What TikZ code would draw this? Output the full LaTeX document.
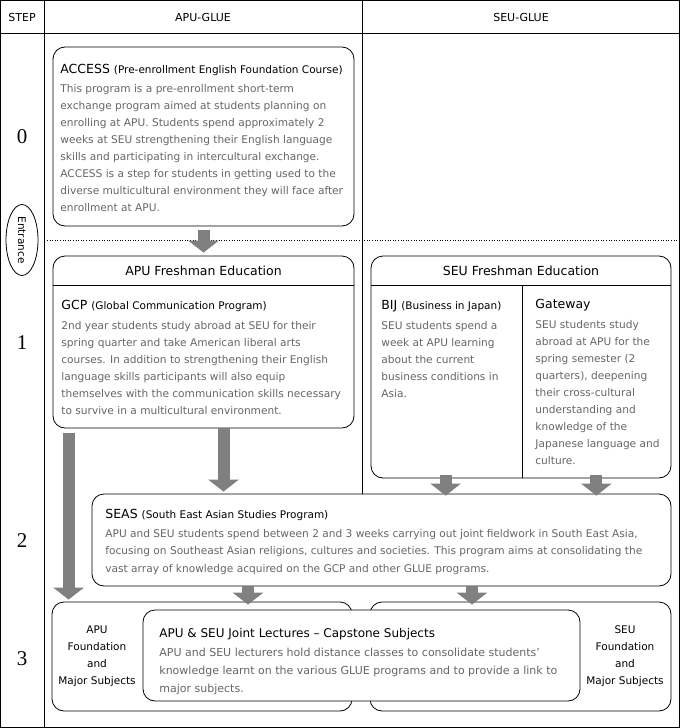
\documentclass[tikz,border=0pt]{standalone}
\usepackage{fontspec}
\setmainfont{DejaVu Sans}
\newfontfamily\stepfont{Liberation Serif}
\usepackage{xcolor}
\usetikzlibrary{shapes.geometric, arrows.meta, positioning}
\definecolor{bodygray}{HTML}{666666}
\definecolor{arrowgray}{HTML}{808080}

\begin{document}
\begin{tikzpicture}[x=1pt, y=-1pt, line width=0.8pt,
  panel/.style={rectangle, draw, rounded corners=12pt, fill=white, inner sep=0pt},
  heading/.style={inner sep=0pt, font=\fontsize{12.5}{15}\selectfont},
  title/.style={anchor=north west, inner sep=0pt, font=\fontsize{12.5}{15}\selectfont},
  body/.style={anchor=north west, inner sep=0pt, align=left, text=bodygray, font=\fontsize{10.6}{17}\selectfont},
  side/.style={inner sep=0pt, align=center, font=\fontsize{10.5}{17}\selectfont},
  stepnum/.style={font=\stepfont\fontsize{21}{21}\selectfont},
  colhead/.style={font=\fontsize{11}{12}\selectfont},
  bigarrow/.style={draw=arrowgray, line width=12pt, -{Triangle[length=12pt, width=30pt]}}]
  \useasboundingbox (0,0) rectangle (680,728);
  \newcommand\paren[1]{{\fontsize{10.5}{12}\selectfont #1}}

  % table frame
  \draw (0.5,0.5) rectangle (679.5,727.5);
  \draw (0.5,33) -- (679.5,33);
  \draw (44,0.5) -- (44,727.5);
  \node (stephead) [colhead] at (22,17) {STEP};
  \node (apuhead) [colhead] at (203,17) {APU-GLUE};
  \node (seuhead) [colhead] at (521,17) {SEU-GLUE};
  \draw[dotted, line width=0.6pt] (47,240) -- (679.5,240);

  % step numbers
  \node (s0) [stepnum] at (22,137) {0};
  \node (s1) [stepnum] at (22,343) {1};
  \node (s2) [stepnum] at (22,541) {2};
  \node (s3) [stepnum] at (22,659) {3};
  \node (entrance) [ellipse, draw, rotate=-90, minimum width=71pt, minimum height=32pt, inner sep=0pt, font=\fontsize{10.5}{12}\selectfont] at (22,240) {Entrance};

  % step 0
  \node (access) [panel, minimum width=301pt, minimum height=179pt] at (203.5,136.5) {};
  \node (accesstitle) [title] at (60,64) {ACCESS \paren{(Pre-enrollment English Foundation Course)}};
  \node (accessbody) [body] at (60,84) {This program is a pre-enrollment short-term\\
    exchange program aimed at students planning on\\
    enrolling at APU. Students spend approximately 2\\
    weeks at SEU strengthening their English language\\
    skills and participating in intercultural exchange.\\
    ACCESS is a step for students in getting used to the\\
    diverse multicultural environment they will face after\\
    enrollment at APU.};

  % step 1
  \node (apufresh) [panel, minimum width=301pt, minimum height=172pt] at (203.5,342) {};
  \node (apufreshhead) [heading] at ([yshift=-15pt]apufresh.north) {APU Freshman Education};
  \draw ([yshift=-30pt]apufresh.north west) -- ([yshift=-30pt]apufresh.north east);
  \node (gcptitle) [title] at (61,300) {GCP \paren{(Global Communication Program)}};
  \node (gcpbody) [body] at (61,321) {2nd year students study abroad at SEU for their\\
    spring quarter and take American liberal arts\\
    courses. In addition to strengthening their English\\
    language skills participants will also equip\\
    themselves with the communication skills necessary\\
    to survive in a multicultural environment.};

  \draw (362,0.5) -- (362,494);
  \node (seufresh) [panel, minimum width=300pt, minimum height=222pt] at (521,367) {};
  \node (seufreshhead) [heading] at ([yshift=-15pt]seufresh.north) {SEU Freshman Education};
  \draw ([yshift=-30pt]seufresh.north west) -- ([yshift=-30pt]seufresh.north east);
  \draw ([xshift=1pt, yshift=-30pt]seufresh.north) -- ([xshift=1pt]seufresh.south);
  \node (bijtitle) [title] at (381,300) {BIJ \paren{(Business in Japan)}};
  \node (bijbody) [body] at (381,321) {SEU students spend a\\
    week at APU learning\\
    about the current\\
    business conditions in\\
    Asia.};
  \node (gatetitle) [title] at (535,299) {Gateway};
  \node (gatebody) [body] at (535,320) {SEU students study\\
    abroad at APU for the\\
    spring semester (2\\
    quarters), deepening\\
    their cross-cultural\\
    understanding and\\
    knowledge of the\\
    Japanese language and\\
    culture.};

  % step 2
  \node (seas) [panel, minimum width=579pt, minimum height=92pt] at (381.5,540) {};
  \node (seastitle) [title] at (105,509) {SEAS \paren{(South East Asian Studies Program)}};
  \node (seasbody) [body, font=\fontsize{10.6}{17.5}\selectfont] at (105,529) {APU and SEU students spend between 2 and 3 weeks carrying out joint fieldwork in South East Asia,\\
    focusing on Southeast Asian religions, cultures and societies. This program aims at consolidating the\\
    vast array of knowledge acquired on the GCP and other GLUE programs.};

  % step 3
  \node (apufound) [panel, minimum width=300pt, minimum height=109pt] at (202,656.5) {};
  \node (seufound) [panel, minimum width=301pt, minimum height=109pt] at (520.5,656.5) {};
  \node (joint) [panel, minimum width=437pt, minimum height=91pt] at (361.5,655.5) {};
  \node (apufoundtext) [side] at (97,656) {APU\\Foundation\\and\\Major Subjects};
  \node (seufoundtext) [side] at (625,656) {SEU\\Foundation\\and\\Major Subjects};
  \node (jointtitle) [title, font=\fontsize{12}{15}\selectfont] at (159,628) {APU \& SEU Joint Lectures – Capstone Subjects};
  \node (jointbody) [body, font=\fontsize{11}{18}\selectfont] at (159,648) {APU and SEU lecturers hold distance classes to consolidate students’\\
    knowledge learnt on the various GLUE programs and to provide a link to\\
    major subjects.};

  % arrows
  \coordinate (gcpout) at ([xshift=20pt]apufresh.south);
  \coordinate (bijout) at ([xshift=75pt, yshift=3pt]seufresh.south west);
  \coordinate (gateout) at ([xshift=-75pt, yshift=3pt]seufresh.south east);
  \coordinate (leftout) at ([xshift=16pt, yshift=-5pt]apufresh.south west);
  \coordinate (seasleft) at ([xshift=-133.5pt]seas.south);
  \coordinate (seasright) at ([xshift=90.5pt]seas.south);
  \draw[bigarrow] ([yshift=-4pt]access.south) -- ([yshift=3pt]apufresh.north);
  \draw[bigarrow] (gcpout) -- ([yshift=2pt]gcpout |- seas.north);
  \draw[bigarrow] (bijout) -- ([yshift=-2pt]bijout |- seas.north);
  \draw[bigarrow] (gateout) -- ([yshift=-2pt]gateout |- seas.north);
  \draw[bigarrow] (leftout) -- ([yshift=2pt]leftout |- apufound.north);
  \draw[bigarrow] (seasleft) -- ([yshift=-3pt]seasleft |- apufound.north);
  \draw[bigarrow] (seasright) -- ([yshift=-3pt]seasright |- seufound.north);
\end{tikzpicture}
\end{document}
